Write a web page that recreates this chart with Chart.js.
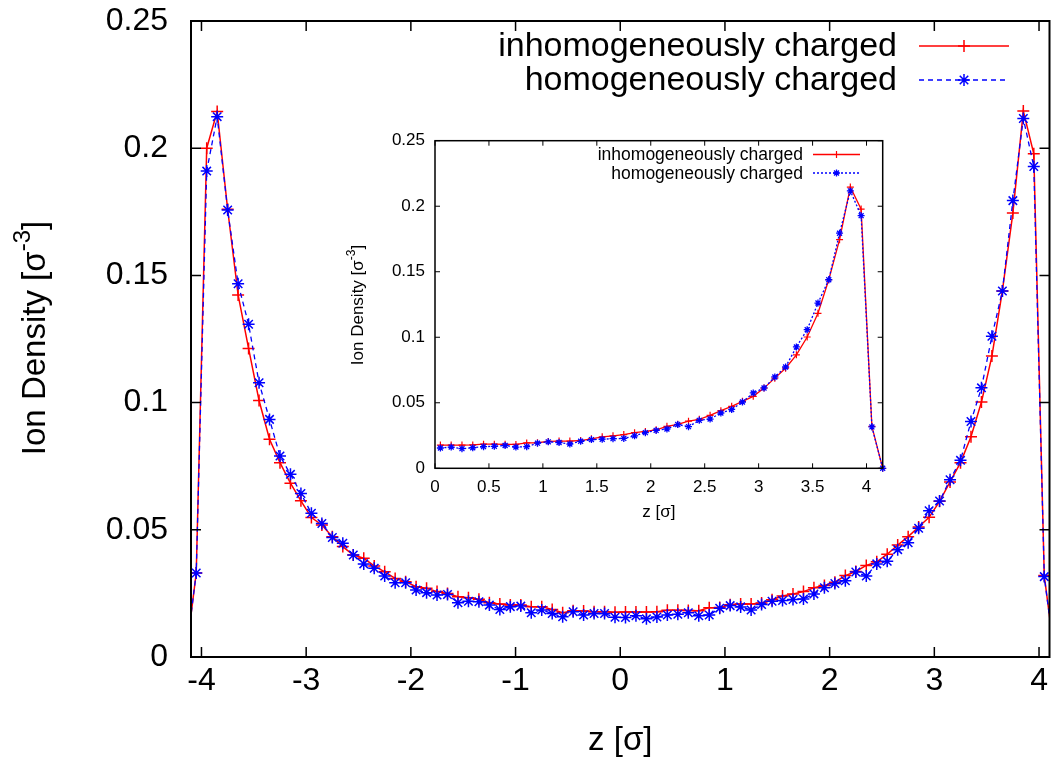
<!DOCTYPE html>
<html>
<head>
<meta charset="utf-8">
<script src="https://cdn.jsdelivr.net/npm/chart.js@4.4.0/dist/chart.umd.min.js"></script>
<style>
  html, body { margin: 0; padding: 0; background: #fff; }
  #wrap { position: relative; width: 1057px; height: 763px; }
  #main { position: absolute; left: 0; top: 0; }
  #inset { position: absolute; left: 330px; top: 120px; }
</style>
</head>
<body>
<div id="wrap">
  <canvas id="main" width="1057" height="763"></canvas>
  <canvas id="inset" width="570" height="420"></canvas>
</div>
<script>
// z positions of the density bins (sigma)
const zValues = [
  -4.15, -4.05, -3.95, -3.85, -3.75, -3.65, -3.55, -3.45, -3.35, -3.25, -3.15, -3.05,
  -2.95, -2.85, -2.75, -2.65, -2.55, -2.45, -2.35, -2.25, -2.15, -2.05,
  -1.95, -1.85, -1.75, -1.65, -1.55, -1.45, -1.35, -1.25, -1.15, -1.05,
  -0.95, -0.85, -0.75, -0.65, -0.55, -0.45, -0.35, -0.25, -0.15, -0.05,
  0.05, 0.15, 0.25, 0.35, 0.45, 0.55, 0.65, 0.75, 0.85, 0.95,
  1.05, 1.15, 1.25, 1.35, 1.45, 1.55, 1.65, 1.75, 1.85, 1.95,
  2.05, 2.15, 2.25, 2.35, 2.45, 2.55, 2.65, 2.75, 2.85, 2.95,
  3.05, 3.15, 3.25, 3.35, 3.45, 3.55, 3.65, 3.75, 3.85, 3.95, 4.05, 4.15
];

const inhomDensity = [
  0, 0.033, 0.200, 0.2144, 0.176, 0.1423, 0.1213, 0.1008, 0.0856, 0.0764, 0.0683, 0.0614,
  0.0548, 0.0519, 0.0473, 0.0434, 0.0401, 0.0388, 0.0358, 0.0335, 0.0309, 0.0296,
  0.0276, 0.027, 0.0257, 0.025, 0.0237, 0.0233, 0.0227, 0.0213, 0.0208, 0.0204,
  0.0204, 0.0198, 0.0198, 0.0187, 0.0174, 0.0182, 0.0181, 0.0178, 0.0178, 0.0176,
  0.0177, 0.0177, 0.0177, 0.0178, 0.0184, 0.0184, 0.0183, 0.0182, 0.0194, 0.0195,
  0.0205, 0.0208, 0.0208, 0.0212, 0.0225, 0.024, 0.0248, 0.0257, 0.0272, 0.0281,
  0.0294, 0.032, 0.0336, 0.036, 0.0374, 0.0404, 0.044, 0.0473, 0.0511, 0.0549,
  0.0612, 0.0688, 0.0764, 0.0866, 0.1002, 0.1183, 0.1439, 0.1745, 0.2146, 0.1978, 0.032, 0
];

const homDensity = [
  0, 0.033, 0.191, 0.2124, 0.1757, 0.1467, 0.1308, 0.1078, 0.0934, 0.079, 0.0718, 0.0643,
  0.0565, 0.0525, 0.047, 0.0447, 0.0401, 0.0366, 0.0349, 0.0318, 0.0292, 0.0292,
  0.0263, 0.0253, 0.0244, 0.0246, 0.0213, 0.0219, 0.0217, 0.0204, 0.0187, 0.0198,
  0.020, 0.0174, 0.0185, 0.0171, 0.0158, 0.0178, 0.0165, 0.0171, 0.0171, 0.0156,
  0.0155, 0.0162, 0.015, 0.0157, 0.0165, 0.0168, 0.0174, 0.0162, 0.0165, 0.0192,
  0.0202, 0.0197, 0.0185, 0.0206, 0.0219, 0.0222, 0.0226, 0.0228, 0.0248, 0.0272,
  0.0289, 0.030, 0.0334, 0.0318, 0.0366, 0.0376, 0.0422, 0.0449, 0.0506, 0.0575,
  0.0613, 0.0697, 0.0773, 0.0926, 0.1058, 0.1261, 0.1439, 0.1794, 0.2117, 0.1928, 0.0316, 0
];

const seriesLabels = ['inhomogeneously charged', 'homogeneously charged'];
const mainXTicks = [-4, -3, -2, -1, 0, 1, 2, 3, 4];
const mainYTicks = [0, 0.05, 0.1, 0.15, 0.2, 0.25];
const insetXTicks = [0, 0.5, 1, 1.5, 2, 2.5, 3, 3.5, 4];
const insetYTicks = [0, 0.05, 0.1, 0.15, 0.2, 0.25];

const FONT = '"Liberation Sans", Arial, Helvetica, sans-serif';

function toPoints(zs, vals) {
  return zs.map((z, i) => ({ x: z, y: vals[i] }));
}

// gnuplot-like frame with inward ticks on all four sides
const framePlugin = {
  id: 'frame',
  afterDatasetsDraw(chart, args, opts) {
    const { ctx, chartArea: a, scales: { x, y } } = chart;
    ctx.save();
    ctx.strokeStyle = '#000';
    ctx.setLineDash([]);
    ctx.lineWidth = opts.tickWidth;
    ctx.beginPath();
    x.ticks.forEach(t => {
      const px = x.getPixelForValue(t.value);
      ctx.moveTo(px, a.bottom); ctx.lineTo(px, a.bottom - opts.tickLen);
      ctx.moveTo(px, a.top); ctx.lineTo(px, a.top + opts.tickLen);
    });
    y.ticks.forEach(t => {
      const py = y.getPixelForValue(t.value);
      ctx.moveTo(a.left, py); ctx.lineTo(a.left + opts.tickLen, py);
      ctx.moveTo(a.right, py); ctx.lineTo(a.right - opts.tickLen, py);
    });
    ctx.stroke();
    ctx.lineWidth = opts.lineWidth;
    ctx.strokeRect(a.left, a.top, a.right - a.left, a.bottom - a.top);
    ctx.restore();
  }
};

// key in the top right corner: text right aligned, sample to the right
const keyPlugin = {
  id: 'key',
  afterDraw(chart, args, opts) {
    const ctx = chart.ctx;
    ctx.save();
    ctx.font = opts.size + 'px ' + FONT;
    ctx.textAlign = 'right';
    ctx.textBaseline = 'middle';
    chart.data.datasets.forEach((ds, i) => {
      const y = opts.y0 + i * opts.dy;
      ctx.fillStyle = '#000';
      ctx.fillText(ds.label, opts.textRight, y + 1);
      ctx.strokeStyle = ds.borderColor;
      ctx.lineWidth = ds.borderWidth;
      ctx.setLineDash(ds.borderDash || []);
      ctx.beginPath();
      ctx.moveTo(opts.sx0, y); ctx.lineTo(opts.sx1, y);
      ctx.stroke();
      ctx.setLineDash([]);
      ctx.lineWidth = ds.pointBorderWidth;
      ctx.fillStyle = ds.borderColor;
      Chart.helpers.drawPoint(ctx, {
        pointStyle: ds.pointStyle, radius: ds.pointRadius,
        borderWidth: ds.pointBorderWidth, rotation: 0
      }, (opts.sx0 + opts.sx1) / 2, y);
    });
    ctx.restore();
  }
};

// rotated y title with superscript exponent
const yTitlePlugin = {
  id: 'ytitle',
  afterDraw(chart, args, opts) {
    const ctx = chart.ctx;
    const f = opts.size + 'px ' + FONT;
    const fs = Math.round(opts.size * 0.72) + 'px ' + FONT;
    const parts = ['Ion Density [σ', '-3', ']'];
    ctx.save();
    ctx.translate(opts.x, opts.y);
    ctx.rotate(-Math.PI / 2);
    ctx.fillStyle = '#000';
    ctx.textAlign = 'left';
    ctx.textBaseline = 'alphabetic';
    ctx.font = f; const w1 = ctx.measureText(parts[0]).width; const w3 = ctx.measureText(parts[2]).width;
    ctx.font = fs; const w2 = ctx.measureText(parts[1]).width;
    let px = -(w1 + w2 + w3) / 2;
    ctx.font = f; ctx.fillText(parts[0], px, 0); px += w1;
    ctx.font = fs; ctx.fillText(parts[1], px, -opts.size * 0.45); px += w2;
    ctx.font = f; ctx.fillText(parts[2], px, 0);
    ctx.restore();
  }
};

function makeDatasets(zs, inhom, hom, big) {
  return [
    {
      label: seriesLabels[0],
      data: toPoints(zs, inhom),
      borderColor: '#ff0000',
      backgroundColor: '#ff0000',
      borderWidth: big ? 1.5 : 1.3,
      pointStyle: 'cross',
      pointRadius: big ? 6 : 3.5,
      pointBorderWidth: big ? 1.5 : 1.2,
      pointBorderColor: '#ff0000',
      tension: 0,
      fill: false,
      order: 1,
      clip: big ? 0 : false
    },
    {
      label: seriesLabels[1],
      data: toPoints(zs, hom),
      borderColor: '#0000ff',
      backgroundColor: '#0000ff',
      borderWidth: 1.3,
      borderDash: big ? [5, 4] : [2, 2],
      pointStyle: 'star',
      pointRadius: big ? 6 : 3.5,
      pointBorderWidth: big ? 1.5 : 1.3,
      pointBorderColor: '#0000ff',
      tension: 0,
      fill: false,
      order: 0,
      clip: big ? 0 : false
    }
  ];
}

function axisOptions(cfg) {
  return {
    x: {
      type: 'linear', min: cfg.xmin, max: cfg.xmax,
      grid: { display: false, drawTicks: false }, border: { display: false },
      afterBuildTicks: s => { s.ticks = cfg.xticks.map(v => ({ value: v })); },
      afterFit: s => { s.height = cfg.xHeight; s.paddingLeft = 0; s.paddingRight = 0; },
      ticks: { color: '#000', font: { family: FONT, size: cfg.tickSize }, padding: cfg.xPad,
               maxRotation: 0, autoSkip: false, callback: v => String(v) },
      title: { display: true, text: 'z [σ]', color: '#000',
               font: { family: FONT, size: cfg.titleSize }, padding: { top: 0, bottom: cfg.titlePad } }
    },
    y: {
      type: 'linear', min: 0, max: 0.25,
      grid: { display: false, drawTicks: false }, border: { display: false },
      afterBuildTicks: s => { s.ticks = cfg.yticks.map(v => ({ value: v })); },
      afterFit: s => { s.width = cfg.yWidth; s.paddingTop = 0; s.paddingBottom = 0; },
      ticks: { color: '#000', font: { family: FONT, size: cfg.tickSize }, padding: cfg.yPad,
               autoSkip: false, callback: v => String(v) }
    }
  };
}

new Chart(document.getElementById('main'), {
  type: 'line',
  data: { datasets: makeDatasets(zValues, inhomDensity, homDensity, true) },
  options: {
    responsive: false,
    animation: false,
    events: [],
    layout: { padding: { left: 0, top: 21, right: 7, bottom: 0 } },
    plugins: {
      legend: { display: false },
      tooltip: { enabled: false },
      frame: { lineWidth: 2, tickWidth: 1.5, tickLen: 10 },
      key: { size: 34, textRight: 897, y0: 46, dy: 34, sx0: 919, sx1: 1009 },
      ytitle: { size: 33, x: 45, y: 338 }
    },
    scales: axisOptions({
      xmin: -4.1, xmax: 4.1, xticks: mainXTicks, yticks: mainYTicks,
      xHeight: 106, yWidth: 191, tickSize: 32, titleSize: 33,
      xPad: 5, yPad: 23, titlePad: 2
    })
  },
  plugins: [framePlugin, keyPlugin, yTitlePlugin]
});

const half = zValues.map((z, i) => i).filter(i => zValues[i] > 0);
new Chart(document.getElementById('inset'), {
  type: 'line',
  data: {
    datasets: makeDatasets(half.map(i => zValues[i]), half.map(i => inhomDensity[i]),
                           half.map(i => homDensity[i]), false)
  },
  options: {
    responsive: false,
    animation: false,
    events: [],
    layout: { padding: { left: 0, top: 20.7, right: 17.3, bottom: 0 } },
    plugins: {
      legend: { display: false },
      tooltip: { enabled: false },
      frame: { lineWidth: 1.5, tickWidth: 1, tickLen: 5 },
      key: { size: 17.5, textRight: 473, y0: 34.5, dy: 18.5, sx0: 483, sx1: 530 },
      ytitle: { size: 17, x: 33, y: 185 }
    },
    scales: axisOptions({
      xmin: 0, xmax: 4.15, xticks: insetXTicks, yticks: insetYTicks,
      xHeight: 71.7, yWidth: 105, tickSize: 17, titleSize: 17,
      xPad: 9, yPad: 10, titlePad: 17
    })
  },
  plugins: [framePlugin, keyPlugin, yTitlePlugin]
});
</script>
</body>
</html>
